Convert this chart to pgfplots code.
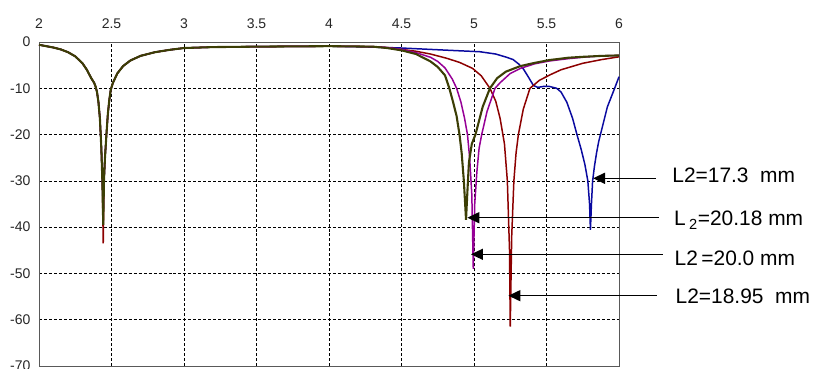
\documentclass[border=0pt]{standalone}
\usepackage{fontspec}
\setmainfont{Liberation Sans}
\usepackage{pgfplots}
\pgfplotsset{compat=1.18}
\usetikzlibrary{arrows.meta}
\definecolor{cblue}{RGB}{10,10,160}
\definecolor{colive}{RGB}{60,62,5}
\definecolor{cpurple}{RGB}{150,0,150}
\definecolor{cred}{RGB}{140,0,0}
\newcommand{\tickfont}{\fontsize{14bp}{14bp}\selectfont}
\begin{document}
\begin{tikzpicture}
\begin{axis}[
  at={(0,0)}, anchor=south west,
  width=580bp, height=324bp, scale only axis,
  xmin=2, xmax=6, ymin=-70, ymax=0,
  xtick={2,2.5,...,6}, ytick={-70,-60,...,0},
  xticklabel pos=top,
  grid=major,
  grid style={densely dashed, black, line width=0.6pt},
  major tick length=0pt,
  axis line style={black!65, line width=0.8pt},
  xticklabel style={font=\tickfont, text=black!85, yshift=10bp},
  yticklabel style={font=\tickfont, text=black!85, xshift=-5bp},
  /pgf/number format/assume math mode=true,
  clip=false,
]
% blue L2=17.3
\addplot[cblue, line width=1.5pt] coordinates {
(2.00,-0.6) (2.05,-0.9) (2.10,-1.2) (2.15,-1.6) (2.20,-2.2) (2.25,-3.1) (2.30,-4.6) (2.33,-6.0) (2.36,-7.8) (2.38,-8.8) (2.39,-9.6) (2.40,-10.8) (2.41,-13) (2.42,-16.5) (2.43,-23) (2.437,-30) (2.441,-35) (2.448,-30) (2.455,-25) (2.465,-20) (2.475,-15.5) (2.485,-12.5) (2.495,-10.3) (2.51,-8.8) (2.54,-6.8) (2.58,-5.2) (2.63,-4.0) (2.70,-3.0) (2.80,-2.2) (2.90,-1.7) (3.00,-1.3) (3.20,-1.1) (3.50,-1.0) (4.00,-0.9) (4.30,-1.1) (4.50,-1.3) (4.70,-1.6) (4.90,-1.9) (5.04,-2.1) (5.15,-2.6) (5.225,-3.3) (5.27,-3.8) (5.31,-4.8) (5.34,-5.8) (5.37,-7.3) (5.41,-9.4) (5.44,-9.8) (5.48,-9.6) (5.52,-9.6) (5.57,-10.0) (5.60,-10.8) (5.64,-13) (5.68,-16.5) (5.71,-20) (5.74,-23.3) (5.765,-26.5) (5.785,-30) (5.797,-35) (5.803,-40.6) (5.81,-35) (5.818,-30) (5.83,-27) (5.845,-24) (5.86,-21.5) (5.88,-19) (5.90,-16.5) (5.92,-14) (5.945,-12) (5.97,-10) (6.00,-7.5)
};
% red L2=18.95
\addplot[cred, line width=1.5pt] coordinates {
(2.00,-0.6) (2.05,-0.9) (2.10,-1.2) (2.15,-1.6) (2.20,-2.2) (2.25,-3.1) (2.30,-4.6) (2.33,-6.0) (2.36,-7.8) (2.38,-8.8) (2.39,-9.6) (2.40,-10.8) (2.41,-13) (2.42,-16.5) (2.43,-23) (2.437,-30) (2.443,-43.5) (2.448,-30) (2.455,-25) (2.465,-20) (2.475,-15.5) (2.485,-12.5) (2.495,-10.3) (2.51,-8.8) (2.54,-6.8) (2.58,-5.2) (2.63,-4.0) (2.70,-3.0) (2.80,-2.2) (2.90,-1.7) (3.00,-1.3) (3.20,-1.1) (3.50,-1.0) (4.00,-0.9) (4.30,-1.0) (4.40,-1.2) (4.50,-1.6) (4.60,-2.0) (4.70,-2.6) (4.81,-3.5) (4.90,-4.4) (4.99,-5.7) (5.05,-7.3) (5.11,-10) (5.15,-12.8) (5.18,-16.5) (5.21,-22) (5.23,-30) (5.245,-45) (5.25,-61.5) (5.26,-42) (5.275,-30) (5.29,-24) (5.306,-20) (5.34,-14.5) (5.386,-10) (5.45,-8.3) (5.524,-7.1) (5.60,-6.0) (5.75,-4.6) (5.88,-3.8) (6.00,-3.2)
};
% purple L2=20.0
\addplot[cpurple, line width=1.5pt] coordinates {
(2.00,-0.6) (2.05,-0.9) (2.10,-1.2) (2.15,-1.6) (2.20,-2.2) (2.25,-3.1) (2.30,-4.6) (2.33,-6.0) (2.36,-7.8) (2.38,-8.8) (2.39,-9.6) (2.40,-10.8) (2.41,-13) (2.42,-16.5) (2.43,-23) (2.437,-30) (2.445,-36) (2.448,-30) (2.455,-25) (2.465,-20) (2.475,-15.5) (2.485,-12.5) (2.495,-10.3) (2.51,-8.8) (2.54,-6.8) (2.58,-5.2) (2.63,-4.0) (2.70,-3.0) (2.80,-2.2) (2.90,-1.7) (3.00,-1.3) (3.20,-1.1) (3.50,-1.0) (4.00,-0.9) (4.30,-1.0) (4.40,-1.2) (4.50,-1.6) (4.60,-2.3) (4.70,-3.3) (4.75,-4.2) (4.80,-5.6) (4.85,-8.0) (4.88,-10) (4.91,-13) (4.935,-16.5) (4.955,-20) (4.97,-25) (4.985,-33) (4.995,-49) (5.005,-35) (5.02,-28) (5.035,-23) (5.053,-20) (5.09,-15) (5.145,-10) (5.18,-8.8) (5.25,-6.8) (5.32,-5.7) (5.42,-4.7) (5.52,-4.1) (5.65,-3.6) (5.75,-3.3) (5.88,-3.0) (6.00,-2.9)
};
% olive L2=20.18
\addplot[colive, line width=2.1pt] coordinates {
(2.00,-0.6) (2.05,-0.9) (2.10,-1.2) (2.15,-1.6) (2.20,-2.2) (2.25,-3.1) (2.30,-4.6) (2.33,-6.0) (2.36,-7.8) (2.38,-8.8) (2.39,-9.6) (2.40,-10.8) (2.41,-13) (2.42,-16.5) (2.43,-23) (2.437,-30) (2.443,-39.5) (2.448,-30) (2.455,-25) (2.465,-20) (2.475,-15.5) (2.485,-12.5) (2.495,-10.3) (2.51,-8.8) (2.54,-6.8) (2.58,-5.2) (2.63,-4.0) (2.70,-3.0) (2.80,-2.2) (2.90,-1.7) (3.00,-1.3) (3.20,-1.1) (3.50,-1.0) (4.00,-0.9) (4.30,-1.0) (4.40,-1.3) (4.50,-1.8) (4.60,-2.6) (4.70,-4.2) (4.75,-5.4) (4.80,-7.2) (4.83,-10) (4.855,-12.9) (4.88,-16) (4.90,-20) (4.915,-24) (4.93,-30) (4.945,-38.4) (4.955,-32) (4.965,-26) (4.985,-22) (5.01,-20) (5.06,-14) (5.11,-10) (5.16,-7.8) (5.22,-6.4) (5.32,-5.2) (5.42,-4.5) (5.52,-3.9) (5.65,-3.4) (5.75,-3.2) (5.88,-3.0) (6.00,-2.9)
};
% annotations
\begin{scope}[line width=1.5pt, font=\fontsize{21}{21}\selectfont]
\draw[{Triangle[length=12bp,width=11bp]}-] (axis cs:5.821,-29.45) -- (axis cs:6.255,-29.45);
\draw[{Triangle[length=12bp,width=11bp]}-] (axis cs:4.954,-37.96) -- (axis cs:6.276,-37.96);
\draw[{Triangle[length=12bp,width=11bp]}-] (axis cs:4.979,-45.87) -- (axis cs:6.302,-45.87);
\draw[{Triangle[length=12bp,width=11bp]}-] (axis cs:5.237,-54.81) -- (axis cs:6.260,-54.81);
\node[anchor=west, inner sep=0pt] at (axis cs:6.363,-28.7) {L2=17.3\ \ mm};
\node[anchor=west, inner sep=0pt] at (axis cs:6.375,-38.5) {L\,\textsubscript{2}=20.18 mm};
\node[anchor=west, inner sep=0pt] at (axis cs:6.379,-46.7) {L2\,=20.0 mm};
\node[anchor=west, inner sep=0pt] at (axis cs:6.386,-55.0) {L2=18.95\ \ mm};
\end{scope}
\end{axis}
\pgfresetboundingbox
\path[use as bounding box] (-39bp,-3bp) rectangle (774bp,366bp);
\end{tikzpicture}
\end{document}
